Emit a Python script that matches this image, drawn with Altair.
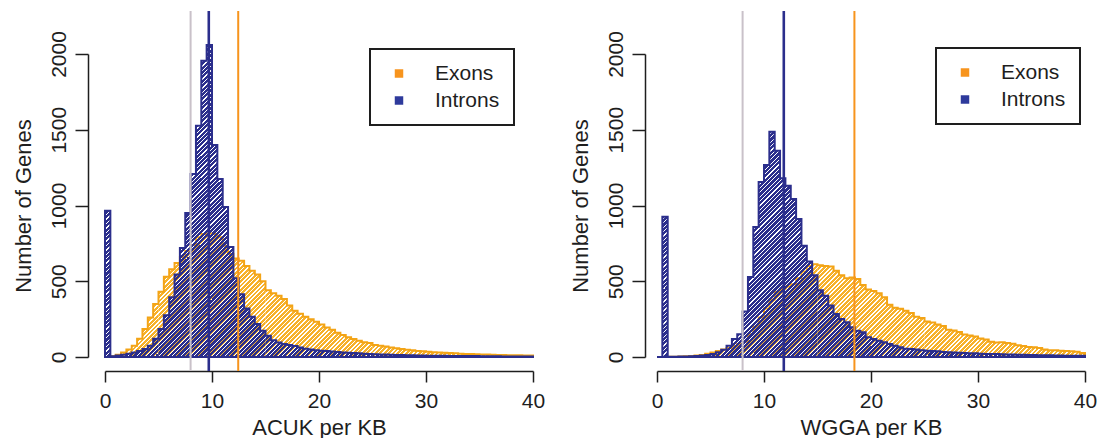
import altair as alt
import numpy as np
import pandas as pd

# ---------------- data (counts per 0.5-wide bin, bins start at 0) ----------------
BIN_WIDTH = 0.5
X_MAX = 40

acuk_introns = [966, 5, 10, 15, 22, 30, 40, 52, 75, 120,
                185, 275, 395, 545, 720, 950, 1208, 1527, 1956, 2060,
                1400, 1175, 990, 726, 520, 415, 320, 265, 218, 174,
                141, 110, 95, 86, 80, 72, 62, 55, 50, 45,
                42, 40, 36, 33, 30, 28, 26, 24, 22, 20,
                18, 17, 16, 15, 14, 13, 12, 11, 10, 10,
                9, 9, 8, 8, 7, 7, 7, 6, 6, 6,
                5, 5, 5, 5, 4, 4, 4, 4, 3, 3]

acuk_exons = [0, 5, 15, 30, 50, 75, 120, 185, 260, 350,
              430, 530, 580, 620, 660, 700, 740, 790, 812, 815,
              812, 790, 735, 680, 650, 635, 600, 570, 545, 500,
              440, 420, 405, 383, 340, 305, 285, 265, 250, 232,
              215, 195, 180, 160, 145, 130, 118, 108, 98, 92,
              80, 75, 70, 62, 58, 52, 48, 44, 40, 38,
              35, 32, 30, 28, 26, 24, 22, 20, 19, 18,
              17, 16, 15, 14, 13, 12, 12, 11, 10, 10]

wgga_introns = [0, 926, 2, 2, 3, 4, 5, 7, 10, 13,
                20, 31, 48, 75, 119, 150, 300, 528, 858, 1155,
                1267, 1487, 1362, 1180, 1131, 1043, 911, 735, 630, 540,
                440, 405, 340, 284, 251, 229, 196, 174, 163, 130,
                119, 108, 97, 86, 75, 64, 55, 53, 50, 44,
                42, 40, 38, 33, 31, 30, 28, 27, 25, 24,
                22, 20, 19, 19, 18, 17, 16, 15, 15, 14,
                13, 12, 12, 11, 10, 10, 9, 9, 8, 8]

wgga_exons = [0, 0, 1, 2, 3, 5, 7, 10, 14, 22,
              30, 40, 50, 60, 72, 85, 100, 150, 200, 260,
              320, 380, 430, 450, 465, 480, 520, 565, 600, 612,
              605, 600, 598, 570, 540, 520, 525, 515, 475, 445,
              435, 420, 395, 345, 325, 318, 305, 290, 265, 258,
              235, 228, 215, 205, 180, 175, 165, 148, 142, 135,
              122, 115, 100, 95, 97, 92, 88, 78, 72, 66,
              64, 60, 50, 45, 44, 42, 40, 38, 34, 26]

line_names = ["Genome", "Introns", "Exons"]
acuk_line_values = [8.0, 9.7, 12.45]
wgga_line_values = [8.0, 11.85, 18.45]

series_names = ["Exons", "Introns"]
x_ticks = [0, 10, 20, 30, 40]
y_ticks = [0, 500, 1000, 1500, 2000]

# ---------------- styling ----------------
ORANGE = "#F7B12A"
ORANGE_EDGE = "#F3A416"
BLUE = "#2B2E8C"
LINE_ORANGE = "#F7941D"
LINE_GRAY = "#C9C1C9"
FONT = "Liberation Sans"
INK = "#1E1E1E"
H = 303
Y_MAX = 2000
PIECE_BINS = 10          # hatch is drawn in slices of this many bins
HATCH_P = 4.4            # horizontal period of the 45-degree hatch, px


def hist_frame(values, start=0, stop=None):
    stop = len(values) if stop is None else stop
    xs = [k * BIN_WIDTH for k in range(start, stop)] + [stop * BIN_WIDTH]
    ys = list(values[start:stop]) + [values[stop - 1]]
    return pd.DataFrame({"x": xs, "count": ys})


def hatch(color, x0, y0, w, h, frac, phase):
    """45-degree '/' stripes aligned to the plot, in bounding-box units."""
    gap = "rgba(255,255,255,0)"
    P = HATCH_P
    delta = P * (((x0 + y0) / P + phase) % 1.0)
    n = int(np.ceil((w + h + delta) / P))
    stops = []
    for i in range(n):
        a, b, c = i / n, (i + frac) / n, (i + 1) / n
        stops += [alt.GradientStop(offset=a, color=color),
                  alt.GradientStop(offset=b, color=color),
                  alt.GradientStop(offset=b, color=gap),
                  alt.GradientStop(offset=c, color=gap)]
    q = w * w + h * h
    x1, y1 = -w * delta / q, -h * delta / q
    x2, y2 = x1 + w * n * P / q, y1 + h * n * P / q
    return alt.LinearGradient(gradient="linear", x1=x1, y1=y1, x2=x2, y2=y2,
                              stops=stops)


def hatched_series(values, width, color, edge, frac, phase, enc_x, enc_y):
    pxu = width / X_MAX
    pyu = H / Y_MAX
    layers = []
    for start in range(0, len(values), PIECE_BINS):
        stop = min(start + PIECE_BINS, len(values))
        vmax = max(values[start:stop])
        if vmax <= 0:
            continue
        x0 = start * BIN_WIDTH * pxu
        w = (stop - start) * BIN_WIDTH * pxu
        h = vmax * pyu
        y0 = H - h
        layers.append(
            alt.Chart(hist_frame(values, start, stop)).mark_area(
                interpolate="step-after",
                fill=hatch(color, x0, y0, w, h, frac, phase),
                strokeWidth=0,
            ).encode(x=enc_x, y=enc_y)
        )
    layers.append(
        alt.Chart(hist_frame(values)).mark_area(
            interpolate="step-after", fill="transparent",
            stroke=edge, strokeWidth=2, strokeJoin="miter",
        ).encode(x=enc_x, y=enc_y)
    )
    return layers


def panel(exons, introns, line_values, xtitle, width, yoffset, lx, ly):
    xscale = alt.Scale(domain=[0, X_MAX], nice=False)
    yscale = alt.Scale(domain=[0, Y_MAX], nice=False)
    xaxis = alt.Axis(values=x_ticks, title=xtitle, offset=14, tickSize=11,
                     labelPadding=8, titlePadding=6, grid=False, labelFlush=False,
                     domainColor=INK, tickColor=INK, domainWidth=1.5, tickWidth=1.5,
                     labelColor=INK, titleColor=INK, labelFont=FONT, titleFont=FONT,
                     labelFontSize=21, titleFontSize=22, titleFontWeight="normal")
    yaxis = alt.Axis(values=y_ticks, format="d", title="Number of Genes",
                     offset=yoffset, tickSize=13, labelAngle=270, labelAlign="center",
                     labelBaseline="bottom", labelPadding=6, titlePadding=13,
                     grid=False, labelFlush=False,
                     domainColor=INK, tickColor=INK, domainWidth=1.5, tickWidth=1.5,
                     labelColor=INK, titleColor=INK, labelFont=FONT, titleFont=FONT,
                     labelFontSize=21, titleFontSize=22, titleFontWeight="normal")

    ex_x = alt.X("x:Q", scale=xscale, axis=xaxis)
    ex_y = alt.Y("count:Q", scale=yscale, axis=yaxis)
    layers = hatched_series(exons, width, ORANGE, ORANGE_EDGE, 0.62, 0.8, ex_x, ex_y)
    layers += hatched_series(introns, width, BLUE, BLUE, 0.7, 0.0,
                             alt.X("x:Q"), alt.Y("count:Q"))

    lines = pd.DataFrame({
        "name": line_names,
        "value": line_values,
        "col": [LINE_GRAY, BLUE, LINE_ORANGE],
        "w": [2.0, 2.6, 2.0],
    })
    rules = alt.Chart(lines).mark_rule().encode(
        x="value:Q",
        y=alt.value(-43),
        y2=alt.value(H + 14),
        stroke=alt.Stroke("col:N", scale=None),
        strokeWidth=alt.StrokeWidth("w:Q", scale=None),
    )

    leg_df = pd.DataFrame({"series": series_names,
                           "value": [line_values[2], line_values[1]]})
    legend_layer = alt.Chart(leg_df).mark_square(opacity=0, size=10).encode(
        x="value:Q",
        color=alt.Color(
            "series:N",
            scale=alt.Scale(domain=series_names, range=[LINE_ORANGE, "#2E3A9C"]),
            legend=alt.Legend(
                title=None, orient="none", legendX=lx, legendY=ly,
                direction="vertical", symbolType="square", symbolSize=72,
                symbolOpacity=1, symbolStrokeWidth=0, symbolOffset=4.5,
                labelFont=FONT, labelFontSize=21, labelColor=INK,
                labelOffset=25.5, rowPadding=5, padding=14,
                strokeColor=INK, fillColor="white",
            ),
        ),
    )
    layers += [rules, legend_layer]
    return alt.layer(*layers).properties(width=width, height=H)


left = panel(acuk_exons, acuk_introns, acuk_line_values, "ACUK per KB", 428, 17, 265, -5)
right = panel(wgga_exons, wgga_introns, wgga_line_values, "WGGA per KB", 428, 12, 279, -6)

chart = alt.hconcat(left, right, spacing=24).resolve_scale(
    color="independent"
).resolve_legend(
    color="independent"
).configure_view(stroke=None).configure_legend(strokeWidth=2).properties(
    padding={"left": 4, "top": 1, "right": 0, "bottom": 0}
)

chart.save("out.html", embed_options={"renderer": "svg", "actions": False})
